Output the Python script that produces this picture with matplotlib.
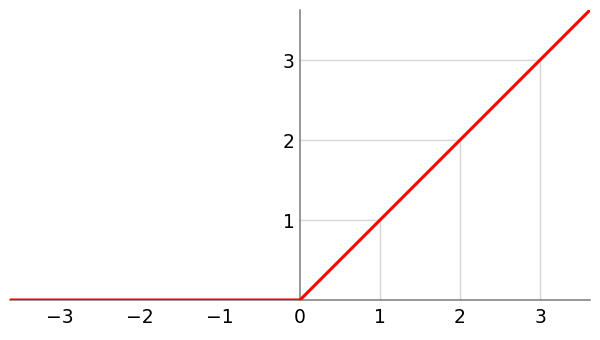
import matplotlib
matplotlib.use("Agg")
import matplotlib.pyplot as plt
import numpy as np

# data
x_vals = [-3.625, 0.0, 3.625]
relu_vals = [0.0, 0.0, 3.625]
x_ticks = [-3, -2, -1, 0, 1, 2, 3]
x_tick_labels = ["\u22123", "\u22122", "\u22121", "0", "1", "2", "3"]
y_ticks = [1, 2, 3]
y_tick_labels = ["1", "2", "3"]
guide_points = [1, 2, 3]

fig = plt.figure(figsize=(6, 3.4), dpi=100)
ax = fig.add_axes([10/600, 40/340, 580/600, 290/340])
ax.set_xlim(-3.625, 3.625)
ax.set_ylim(0, 3.625)

# guide lines from axes to the curve
for g in guide_points:
    ax.vlines(g, 0, g, color="#d6d6d6", lw=1.0, zorder=1)
    ax.hlines(g, 0, g, color="#d6d6d6", lw=1.0, zorder=1)

ax.plot(x_vals, relu_vals, color="#ff0000", lw=2.2, zorder=3, solid_capstyle="butt")

for s in ["top", "right"]:
    ax.spines[s].set_visible(False)
ax.spines["left"].set_position(("data", 0))
ax.spines["left"].set_color("#7a7a7a")
ax.spines["bottom"].set_color("#7a7a7a")
ax.spines["left"].set_linewidth(1.1)
ax.spines["bottom"].set_linewidth(1.1)
ax.spines["left"].set_zorder(2)
ax.spines["bottom"].set_zorder(2)

ax.set_xticks(x_ticks)
ax.set_xticklabels(x_tick_labels)
ax.set_yticks(y_ticks)
ax.set_yticklabels(y_tick_labels)
ax.tick_params(axis="both", length=0, labelsize=13.5, colors="black")
ax.tick_params(axis="x", pad=5.5)
ax.tick_params(axis="y", pad=4)
ax.patch.set_visible(False)

fig.savefig("out.png", dpi=100)
